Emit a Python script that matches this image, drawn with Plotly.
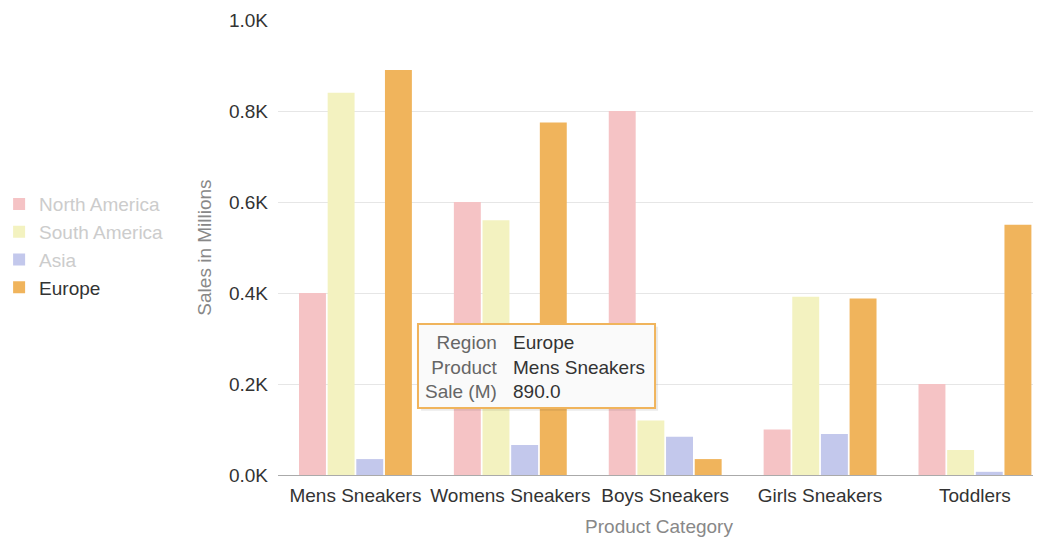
import plotly.graph_objects as go

categories = ["Mens Sneakers", "Womens Sneakers", "Boys Sneakers", "Girls Sneakers", "Toddlers"]
regions = ["North America", "South America", "Asia", "Europe"]
north_america = [400, 600, 800, 100, 200]
south_america = [840, 560, 120, 392, 55]
asia = [35, 66, 84, 90, 7]
europe = [890, 775, 35, 388, 550]
tick_vals = [0, 200, 400, 600, 800, 1000]
tick_text = ["0.0K", "0.2K", "0.4K", "0.6K", "0.8K", "1.0K"]

series = [north_america, south_america, asia, europe]
colors = ["#f5c3c5", "#f3f2c0", "#c3c8ec", "#f0b45c"]
legend_colors = ["#cccccc", "#cccccc", "#cccccc", "#333333"]

FONT = "Liberation Sans, Arial, sans-serif"

fig = go.Figure()
for name, vals, col, lc in zip(regions, series, colors, legend_colors):
    fig.add_trace(go.Bar(
        x=categories, y=vals, marker=dict(color=col, line=dict(width=0)),
        name=f"<span style='color:{lc}'>{name}</span>",
    ))

# tooltip (static)
fig.add_shape(type="rect", xref="paper", yref="paper",
              x0=0.1877, x1=0.4988, y0=0.1413, y1=0.3259,
              fillcolor="rgba(0,0,0,0.08)", line=dict(width=0), layer="above")
fig.add_shape(type="rect", xref="paper", yref="paper",
              x0=0.1837, x1=0.4948, y0=0.1473, y1=0.3319,
              fillcolor="#fafafa", line=dict(color="#f0b45c", width=2), layer="above")
fig.add_annotation(xref="paper", yref="paper", x=0.2913, y=0.2374,
                   xanchor="right", yanchor="middle", align="right", showarrow=False,
                   text="Region<br>Product<br>Sale (M)",
                   font=dict(family=FONT, size=19, color="#666666"))
fig.add_annotation(xref="paper", yref="paper", x=0.3058, y=0.2374,
                   xanchor="left", yanchor="middle", align="left", showarrow=False,
                   text=f"{regions[3]}<br>{categories[0]}<br>{europe[0]:.1f}",
                   font=dict(family=FONT, size=19, color="#333333"))

fig.update_layout(
    width=1041, height=540,
    margin=dict(l=270, r=9, t=12, b=73, autoexpand=False),
    paper_bgcolor="white", plot_bgcolor="white",
    barmode="group", bargap=0.26, bargroupgap=0.06,
    font=dict(family=FONT, size=19, color="#333333"),
    legend=dict(xref="paper", yref="paper", x=-0.366, y=0.504,
                xanchor="left", yanchor="middle",
                font=dict(family=FONT, size=19, color="#cccccc"),
                itemclick=False),
    xaxis=dict(range=[-0.5, 4.42], showgrid=False, showline=True, linecolor="#aaaaaa",
               linewidth=1, ticks="", automargin=False, ticklabelstandoff=3,
               tickfont=dict(size=19, color="#333333"),
               title=dict(text="Product Category", font=dict(size=19, color="#888888"), standoff=14)),
    yaxis=dict(range=[0, 1000], tickvals=tick_vals, ticktext=tick_text,
               showgrid=True, gridcolor="#e6e6e6", zeroline=False, showline=False,
               automargin=False, ticklabelstandoff=9, tickfont=dict(size=19, color="#333333"),
               title=dict(text="Sales in Millions", font=dict(size=19, color="#888888"), standoff=12)),
)

fig.write_html("out.html")
